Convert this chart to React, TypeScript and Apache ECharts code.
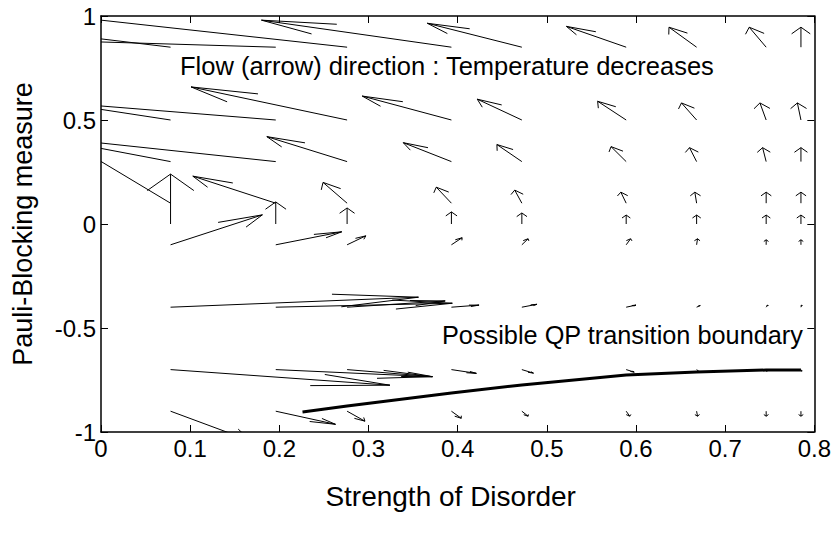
import React, { useEffect, useRef } from "react";
import * as echarts from "echarts";

// Grid of arrow tails (quiver plot)
const xColumns = [0.078, 0.196, 0.276, 0.393, 0.472, 0.589, 0.668, 0.746, 0.785];
const yRows = [0.85, 0.5, 0.3, 0.1, 0, -0.1, -0.4, -0.7, -0.9];

// Arrow components, one row per yRows entry, one column per xColumns entry
const uGrid = [
  [-0.15, -0.32, -0.45, -0.213, -0.106, -0.067, -0.031, -0.019, 0],
  [-0.15, -0.32, -0.175, -0.1, -0.05, -0.032, -0.017, -0.007, -0.004],
  [-0.15, -0.32, -0.09, -0.054, -0.028, -0.017, -0.008, -0.004, 0],
  [-0.22, -0.093, -0.027, -0.017, -0.008, -0.006, -0.002, 0, 0],
  [0, 0, 0, 0, 0, 0, 0, 0, 0],
  [0.103, 0.074, 0.021, 0.012, 0.007, 0.005, 0.001, 0, 0],
  [0.278, 0.198, 0.11, 0.031, 0.017, 0.011, 0.004, 0.002, 0.001],
  [0.246, 0.175, 0.096, 0.028, 0.013, 0.009, 0.003, 0.001, 0.001],
  [0.09, 0.067, 0.02, 0.011, 0.007, 0.004, 0.001, 0, 0],
];
const vGrid = [
  [0.077, 0.041, 0.212, 0.13, 0.115, 0.1, 0.096, 0.096, 0.096],
  [0.098, 0.11, 0.159, 0.115, 0.1, 0.09, 0.082, 0.082, 0.082],
  [0.122, 0.146, 0.12, 0.091, 0.082, 0.072, 0.067, 0.067, 0.067],
  [0.566, 0.13, 0.1, 0.077, 0.063, 0.053, 0.053, 0.053, 0.053],
  [0.24, 0.106, 0.077, 0.058, 0.053, 0.043, 0.043, 0.043, 0.043],
  [0.144, 0.0625, 0.043, 0.034, 0.029, 0.029, 0.029, 0.024, 0.024],
  [0.048, 0.019, 0.03, 0.01, 0.014, 0.01, 0.008, 0.01, 0.01],
  [-0.075, -0.034, -0.034, -0.018, -0.017, -0.012, -0.01, -0.008, -0.008],
  [-0.143, -0.063, -0.048, -0.034, -0.024, -0.024, -0.024, -0.024, -0.024],
];

// Possible QP transition boundary
const boundaryX = [0.226, 0.276, 0.393, 0.472, 0.589, 0.668, 0.746, 0.785];
const boundaryY = [-0.904, -0.875, -0.813, -0.774, -0.726, -0.712, -0.702, -0.702];

const xTitle = "Strength of Disorder";
const yTitle = "Pauli-Blocking measure";
const flowNote = "Flow (arrow) direction : Temperature decreases";
const boundaryNote = "Possible QP transition boundary";

const ALPHA = 0.33;
const BETA = 0.33;
const FONT = "'Liberation Sans', Arial, Helvetica, sans-serif";

export default function App() {
  const ref = useRef<HTMLDivElement>(null);

  useEffect(() => {
    if (!ref.current) return;
    const chart = echarts.init(ref.current, undefined, { renderer: "svg" });

    const quiverData: number[][] = [];
    yRows.forEach((y, r) => {
      xColumns.forEach((x, c) => {
        quiverData.push([x, y, uGrid[r][c], vGrid[r][c]]);
      });
    });

    const boundaryData = boundaryX.map((x, i) => [x, boundaryY[i]]);

    const renderItem = (params: any, api: any) => {
      const x = api.value(0);
      const y = api.value(1);
      const u = api.value(2);
      const v = api.value(3);
      const hx = x + u;
      const hy = y + v;
      const b1 = [hx - ALPHA * (u + BETA * v), hy - ALPHA * (v - BETA * u)];
      const b2 = [hx - ALPHA * (u - BETA * v), hy - ALPHA * (v + BETA * u)];
      const t = api.coord([x, y]);
      const h = api.coord([hx, hy]);
      const p1 = api.coord(b1);
      const p2 = api.coord(b2);
      return {
        type: "group",
        children: [
          {
            type: "line",
            shape: { x1: t[0], y1: t[1], x2: h[0], y2: h[1] },
            style: { stroke: "#000", lineWidth: 1 },
          },
          {
            type: "polyline",
            shape: { points: [p1, h, p2] },
            style: { stroke: "#000", fill: null, lineWidth: 1 },
          },
        ],
      };
    };

    const axisLine = { show: true, onZero: false, lineStyle: { color: "#000", width: 1.5 } };
    const axisTick = { show: true, inside: true, length: 7, lineStyle: { color: "#000", width: 1 } };
    const labelStyle = { color: "#000", fontSize: 24, fontFamily: FONT };

    chart.setOption({
      animation: false,
      backgroundColor: "#fff",
      grid: { left: 101, right: 19, top: 16, bottom: 104, containLabel: false },
      xAxis: [
        {
          type: "value",
          min: 0,
          max: 0.8,
          interval: 0.1,
          position: "bottom",
          axisLine,
          axisTick,
          splitLine: { show: false },
          axisLabel: { ...labelStyle, margin: 4 },
          name: xTitle,
          nameLocation: "middle",
          nameGap: 50,
          nameTextStyle: { color: "#000", fontSize: 28, fontFamily: FONT, padding: [0, 14, 0, 0] },
        },
        {
          type: "value",
          min: 0,
          max: 0.8,
          interval: 0.1,
          position: "top",
          axisLine,
          axisTick,
          splitLine: { show: false },
          axisLabel: { show: false },
        },
      ],
      yAxis: [
        {
          type: "value",
          min: -1,
          max: 1,
          interval: 0.5,
          position: "left",
          axisLine,
          axisTick,
          splitLine: { show: false },
          axisLabel: { ...labelStyle, margin: 5 },
          name: yTitle,
          nameLocation: "middle",
          nameGap: 65,
          nameRotate: 90,
          nameTextStyle: { color: "#000", fontSize: 27, fontFamily: FONT },
        },
        {
          type: "value",
          min: -1,
          max: 1,
          interval: 0.5,
          position: "right",
          axisLine,
          axisTick,
          splitLine: { show: false },
          axisLabel: { show: false },
        },
      ],
      graphic: [
        {
          type: "text",
          left: 180,
          top: 53,
          style: { text: flowNote, fill: "#000", fontSize: 25.5, fontFamily: FONT },
        },
        {
          type: "text",
          left: 442,
          top: 322,
          style: { text: boundaryNote, fill: "#000", fontSize: 25.3, fontFamily: FONT },
        },
      ],
      series: [
        {
          type: "custom",
          xAxisIndex: 0,
          yAxisIndex: 0,
          clip: true,
          renderItem,
          encode: { x: 0, y: 1 },
          data: quiverData,
          silent: true,
        },
        {
          type: "line",
          xAxisIndex: 0,
          yAxisIndex: 0,
          data: boundaryData,
          showSymbol: false,
          symbol: "none",
          lineStyle: { color: "#000", width: 3 },
          silent: true,
          clip: true,
        },
      ],
    });

    return () => chart.dispose();
  }, []);

  return (
    <div
      ref={ref}
      style={{ position: "absolute", left: 0, top: 0, width: 834, height: 536, background: "#fff" }}
    />
  );
}
